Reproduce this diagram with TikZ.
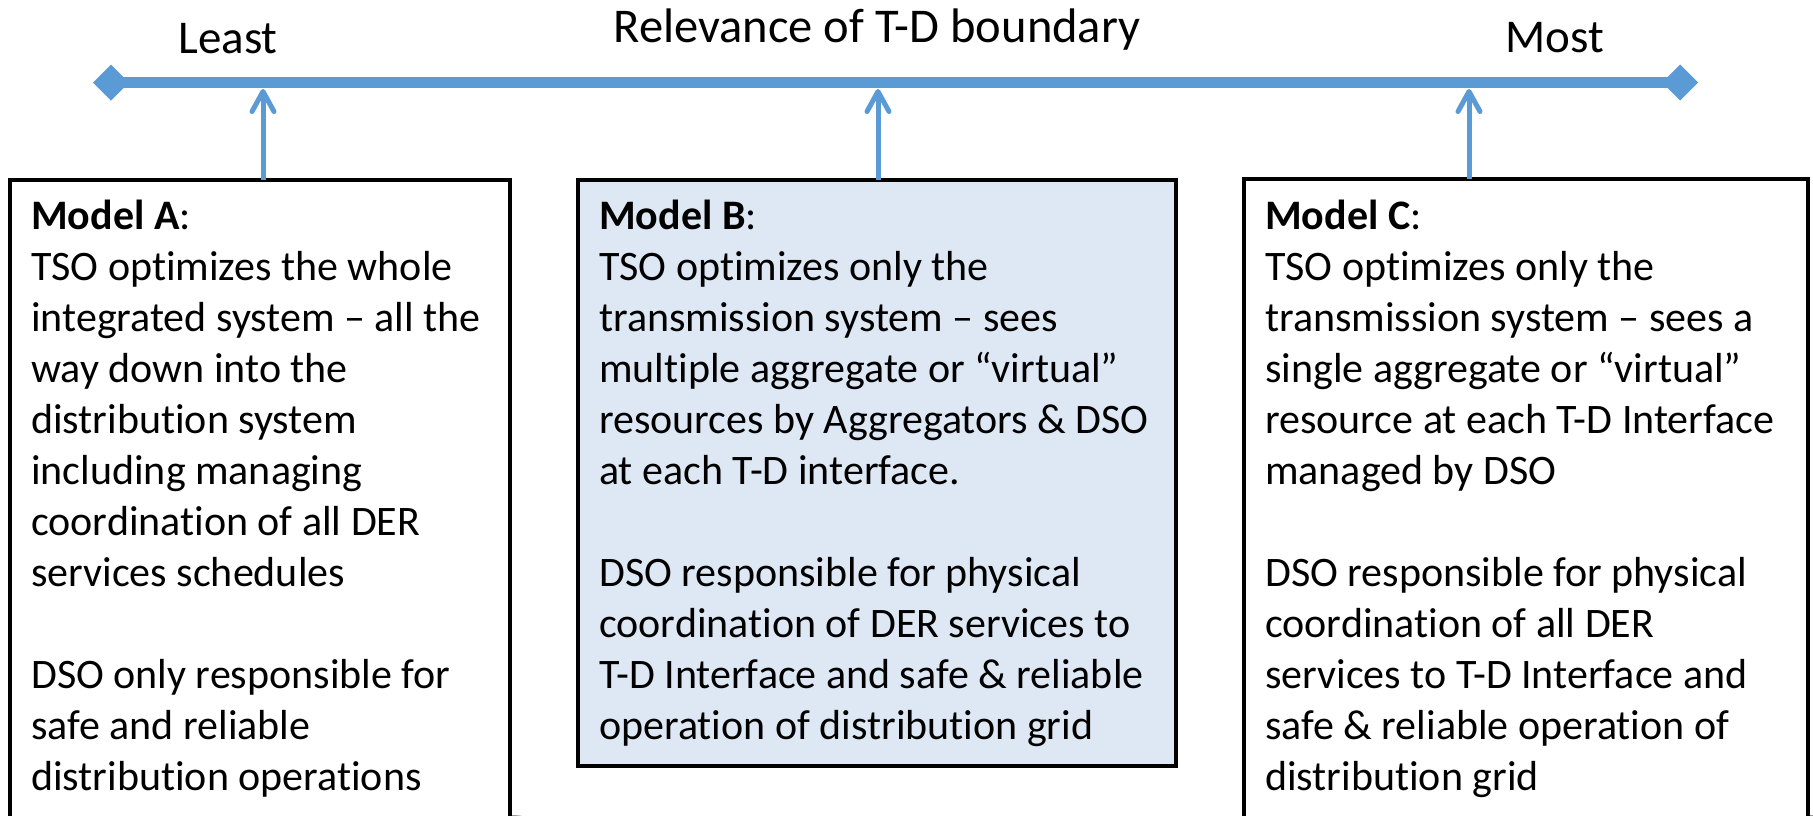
\documentclass[tikz,border=0pt]{standalone}
\usepackage{fontspec}
\setmainfont{Carlito}[Ligatures={NoCommon}]
\usetikzlibrary{arrows.meta,shapes.geometric}
\definecolor{axisblue}{HTML}{5B9BD5}
\definecolor{paleblue}{HTML}{DDE8F4}
\pgfdeclarelayer{shade}
\pgfsetlayers{shade,main}
\begin{document}
\begin{tikzpicture}[x=1pt,y=-1pt,
  axisline/.style={draw=axisblue, line width=11pt},
  endtip/.style={diamond, fill=axisblue, minimum width=36pt, minimum height=36pt, inner sep=0pt, outer sep=0pt},
  pointer/.style={draw=axisblue, line width=5pt, -{Straight Barb[length=20pt,width=22pt,round]}},
  scalelabel/.style={font=\fontsize{47}{56}\selectfont, inner sep=0pt, anchor=base},
  modelbox/.style={draw=black, line width=4pt, anchor=north west, inner sep=0pt, outer sep=0pt},
  modeltext/.style={font=\fontsize{42}{51}\selectfont, align=left, anchor=north west, inner sep=0pt},
  shadowlayer/.style={fill=black, opacity=0.07},
]
\useasboundingbox (0,0) rectangle (1813,815);
\fill[white] (0,0) rectangle (1813,815);

% scale along the top
\node[scalelabel] (least) at (228,53) {Least};
\node[scalelabel, font=\fontsize{48.5}{58}\selectfont] (title) at (877,42) {Relevance of T-D boundary};
\node[scalelabel] (most)  at (1555,52) {Most};

\node[endtip] (dl) at (111,82.5) {};
\node[endtip] (dr) at (1680,82.5) {};
\draw[axisline] (dl.center) -- (dr.center);

\coordinate (tA) at (263,89);
\coordinate (tB) at (878,89);
\coordinate (tC) at (1469,89);

% the three model boxes
\node[modelbox, fill=white, minimum width=500pt, minimum height=660pt] (boxA) at (10,180) {};
\node[modelbox, fill=paleblue, minimum width=598pt, minimum height=586pt] (boxB) at (578,180) {};
\node[modelbox, fill=white, minimum width=564pt, minimum height=660pt] (boxC) at (1244,179) {};

\begin{pgfonlayer}{shade}
  \foreach \e in {0,...,6} {
    \fill[shadowlayer] ([shift={(6-\e,6-\e)}]boxA.north west) rectangle ([shift={(6+\e,6+\e)}]boxA.south east);
    \fill[shadowlayer] ([shift={(6-\e,6-\e)}]boxB.north west) rectangle ([shift={(6+\e,6+\e)}]boxB.south east);
    \fill[shadowlayer] ([shift={(6-\e,6-\e)}]boxC.north west) rectangle ([shift={(6+\e,6+\e)}]boxC.south east);
  }
\end{pgfonlayer}

\draw[pointer] (tA |- boxA.north) -- (tA);
\draw[pointer] (tB |- boxB.north) -- (tB);
\draw[pointer] (tC |- boxC.north) -- (tC);

\node[modeltext] (textA) at (31,189) {\rule{0pt}{40pt}\textbf{Model A}:\\
TSO optimizes the whole\\
integrated system – all the\\
way down into the\\
distribution system\\
including managing\\
coordination of all DER\\
services schedules\\
\mbox{}\\
DSO only responsible for\\
safe and reliable\\
distribution operations};

\node[modeltext] (textB) at (599,189) {\rule{0pt}{40pt}\textbf{Model B}:\\
TSO optimizes only the\\
transmission system – sees\\
multiple aggregate or “virtual”\\
resources by Aggregators \& DSO\\
at each T-D interface.\\
\mbox{}\\
DSO responsible for physical\\
coordination of DER services to\\
T-D Interface and safe \& reliable\\
operation of distribution grid};

\node[modeltext] (textC) at (1265,189) {\rule{0pt}{40pt}\textbf{Model C}:\\
TSO optimizes only the\\
transmission system – sees a\\
single aggregate or “virtual”\\
resource at each T-D Interface\\
managed by DSO\\
\mbox{}\\
DSO responsible for physical\\
coordination of all DER\\
services to T-D Interface and\\
safe \& reliable operation of\\
distribution grid};
\end{tikzpicture}
\end{document}
